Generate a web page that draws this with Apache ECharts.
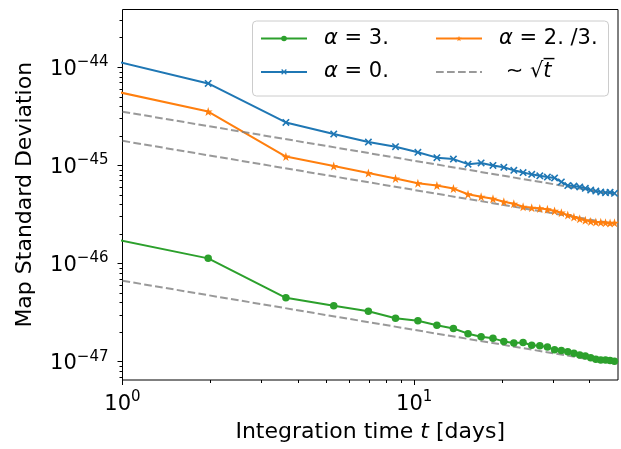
<!DOCTYPE html>
<html>
<head>
<meta charset="utf-8">
<script src="https://cdn.jsdelivr.net/npm/echarts@6/dist/echarts.min.js"></script>
<style>
	html, body {margin: 0; padding: 0; background: #fff;}
	#chart {width: 621px; height: 449px;}
</style>
</head>
<body>
<div id="chart"></div>
<script>
	// integration time t [days]
	var tDays = [0.3, 1.967, 3.633, 5.3, 6.967, 8.633, 10.3, 11.967, 13.633, 15.3,
		16.967, 18.633, 20.3, 21.967, 23.633, 25.3, 26.967, 28.633, 30.3, 31.967,
		33.633, 35.3, 36.967, 38.633, 40.3, 41.967, 43.633, 45.3, 46.967, 48.633];
	// map standard deviation
	var alpha3 = [3.54e-46, 1.13e-46, 4.48e-47, 3.71e-47, 3.26e-47, 2.77e-47, 2.61e-47, 2.35e-47, 2.18e-47, 1.93e-47,
		1.80e-47, 1.73e-47, 1.61e-47, 1.55e-47, 1.57e-47, 1.47e-47, 1.45e-47, 1.41e-47, 1.32e-47, 1.30e-47,
		1.26e-47, 1.22e-47, 1.17e-47, 1.14e-47, 1.10e-47, 1.06e-47, 1.04e-47, 1.04e-47, 1.03e-47, 1.01e-47];
	var alpha0 = [2.63e-44, 6.85e-45, 2.74e-45, 2.09e-45, 1.73e-45, 1.55e-45, 1.36e-45, 1.20e-45, 1.16e-45, 1.03e-45,
		1.06e-45, 1.00e-45, 9.57e-46, 8.91e-46, 8.47e-46, 8.11e-46, 7.83e-46, 7.62e-46, 7.45e-46, 6.78e-46,
		6.24e-46, 6.17e-46, 6.03e-46, 5.85e-46, 5.61e-46, 5.48e-46, 5.36e-46, 5.27e-46, 5.32e-46, 5.20e-46];
	var alpha23 = [1.19e-44, 3.54e-45, 1.23e-45, 9.86e-46, 8.36e-46, 7.36e-46, 6.59e-46, 6.24e-46, 5.81e-46, 5.09e-46,
		4.80e-46, 4.57e-46, 4.27e-46, 4.07e-46, 3.79e-46, 3.71e-46, 3.65e-46, 3.57e-46, 3.44e-46, 3.30e-46,
		3.12e-46, 2.98e-46, 2.86e-46, 2.76e-46, 2.69e-46, 2.65e-46, 2.63e-46, 2.61e-46, 2.59e-46, 2.60e-46];
	// ~sqrt(t) guide lines, end points
	var guideT = [1, 48.633];
	var guideA = [3.53e-45, 5.06e-46];
	var guideB = [1.78e-45, 2.55e-46];
	var guideC = [6.68e-47, 9.58e-48];

	var xMajor = [1, 10];
	var xMinor = [2, 3, 4, 5, 6, 7, 8, 9, 20, 30, 40];
	var yMajor = [1e-47, 1e-46, 1e-45, 1e-44];
	var yMinor = [7e-48, 8e-48, 9e-48,
		2e-47, 3e-47, 4e-47, 5e-47, 6e-47, 7e-47, 8e-47, 9e-47,
		2e-46, 3e-46, 4e-46, 5e-46, 6e-46, 7e-46, 8e-46, 9e-46,
		2e-45, 3e-45, 4e-45, 5e-45, 6e-45, 7e-45, 8e-45, 9e-45,
		2e-44, 3e-44];
	var yRange = [6.51e-48, 3.88e-44];

	// echarts rounds very small log values to 0, so the y axis works in units of 1e-48
	var Y_EXP = -48;
	function toUnit(v) { return v / Math.pow(10, Y_EXP); }

	var FONT = 'DejaVu Sans';
	var legendText = {
		'α=3.': '{g|}{i|α} = 3.',
		'α=0.': '{g|}{i|α} = 0.',
		'α=2./3.': '{g|}{i|α} = 2. /3.',
		'∼√t': '{g|} ∼ √{i|t\u0305}'
	};
	var X_SYMBOL = 'path://M0,0.15L0.15,0L0.5,0.35L0.85,0L1,0.15L0.65,0.5L1,0.85L0.85,1L0.5,0.65L0.15,1L0,0.85L0.35,0.5Z';
	var STAR_SYMBOL = 'path://M1,0L1.2245,0.691L1.9511,0.691L1.3633,1.118L1.5878,1.809L1,1.382L0.4122,1.809L0.6367,1.118L0.0489,0.691L0.7755,0.691Z';

	function pairs(xs, ys) {
		return xs.map(function (x, i) { return [x, toUnit(ys[i])]; });
	}
	function powLabel(offset) {
		return function (v) {
			var e = Math.round(Math.log10(v)) + offset;
			return '{b|10}{e|' + (e < 0 ? '\u2212' + (-e) : e) + '}';
		};
	}
	var labelRich = {
		b: {fontSize: 21, lineHeight: 21, padding: [4, 0, 0, 0], fontFamily: FONT, color: '#000'},
		e: {fontSize: 15, lineHeight: 15, padding: [0, 0, 10, 0], fontFamily: FONT, color: '#000'}
	};
	var legendBase = {
		orient: 'vertical', top: 28, itemWidth: 46, itemHeight: 7, itemGap: 12.4, padding: 0,
		formatter: function (n) { return legendText[n]; },
		textStyle: {
			fontFamily: FONT, fontSize: 21, lineHeight: 21, color: '#000',
			rich: {g: {width: 12}, i: {fontStyle: 'italic', fontFamily: FONT, fontSize: 21}}
		}
	};

	function logAxis(min, max) {
		return {type: 'log', logBase: 10, min: min, max: max, splitLine: {show: false}, axisLine: {show: false}};
	}
	var xMain = Object.assign(logAxis(1, 50), {
		position: 'bottom',
		name: 'Integration time {i|t} [days]', nameLocation: 'middle', nameGap: 41,
		nameTextStyle: {fontFamily: FONT, fontSize: 22, lineHeight: 22, color: '#000',
			rich: {i: {fontStyle: 'italic', fontFamily: FONT, fontSize: 22}}},
		axisTick: {length: 5, lineStyle: {color: '#000'}, customValues: xMajor},
		axisLabel: {margin: 12, customValues: xMajor, formatter: powLabel(0), rich: labelRich}
	});
	var xSub = Object.assign(logAxis(1, 50), {
		position: 'bottom',
		axisTick: {length: 3, lineStyle: {color: '#000'}, customValues: xMinor},
		axisLabel: {show: false}
	});
	var yMain = Object.assign(logAxis(toUnit(yRange[0]), toUnit(yRange[1])), {
		position: 'left',
		name: 'Map Standard Deviation', nameLocation: 'middle', nameGap: 86,
		nameTextStyle: {fontFamily: FONT, fontSize: 22, lineHeight: 22, color: '#000'},
		axisTick: {length: 5, lineStyle: {color: '#000'}, customValues: yMajor.map(toUnit)},
		axisLabel: {margin: 14, customValues: yMajor.map(toUnit), formatter: powLabel(Y_EXP), rich: labelRich}
	});
	var ySub = Object.assign(logAxis(toUnit(yRange[0]), toUnit(yRange[1])), {
		position: 'left',
		axisTick: {length: 3, lineStyle: {color: '#000'}, customValues: yMinor.map(toUnit)},
		axisLabel: {show: false}
	});

	function dataLine(name, color, symbol, size, ys) {
		return {
			name: name, type: 'line', data: pairs(tDays, ys), clip: true,
			symbol: symbol, symbolSize: size, showAllSymbol: true,
			lineStyle: {color: color, width: 2}, itemStyle: {color: color},
			emphasis: {disabled: true}, animation: false
		};
	}
	function guideLine(ys) {
		return {
			name: '∼√t', type: 'line', data: pairs(guideT, ys), clip: true, symbol: 'none',
			lineStyle: {color: 'rgba(128,128,128,0.8)', width: 2, type: [7.7, 3.3]},
			itemStyle: {color: 'rgba(128,128,128,0.8)'},
			emphasis: {disabled: true}, animation: false
		};
	}

	var myChart = echarts.init(document.getElementById('chart'));
	var option = {
		backgroundColor: '#fff',
		animation: false,
		grid: {left: 122.5, right: 3, top: 9.5, bottom: 69, show: true, borderColor: '#000', borderWidth: 1, backgroundColor: 'transparent'},
		xAxis: [xMain, xSub],
		yAxis: [yMain, ySub],
		legend: [
			Object.assign({}, legendBase, {left: 260, data: ['α=3.', 'α=0.']}),
			Object.assign({}, legendBase, {left: 435, data: ['α=2./3.', {name: '∼√t', itemStyle: {opacity: 0}}]})
		],
		graphic: [{
			type: 'rect', z: 3,
			shape: {x: 252.5, y: 21, width: 356, height: 75, r: 4},
			style: {fill: 'rgba(255,255,255,0.8)', stroke: '#cccccc', lineWidth: 1}
		}],
		series: [
			dataLine('α=3.', '#2ca02c', 'circle', 7.5, alpha3),
			dataLine('α=0.', '#1f77b4', X_SYMBOL, 7.5, alpha0),
			dataLine('α=2./3.', '#ff7f0e', STAR_SYMBOL, 9, alpha23),
			guideLine(guideA),
			guideLine(guideB),
			guideLine(guideC)
		]
	};
	myChart.setOption(option);
</script>
</body>
</html>
